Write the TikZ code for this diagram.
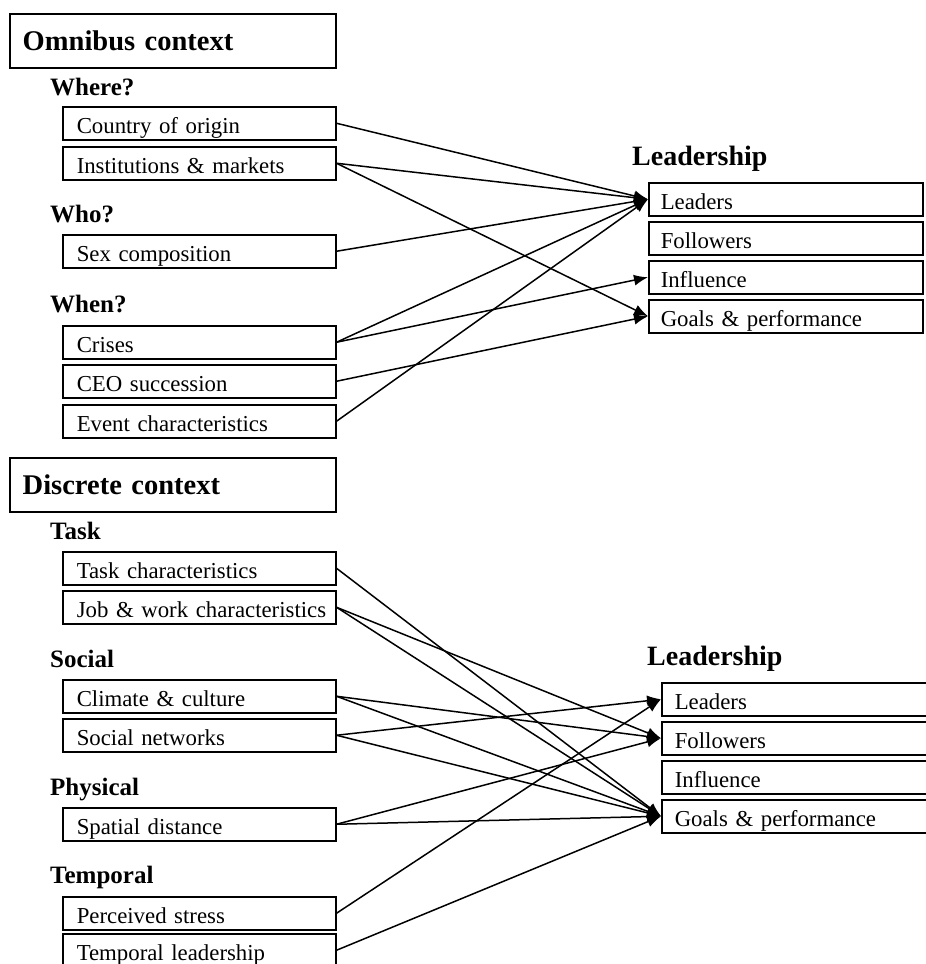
\documentclass[tikz,border=0pt]{standalone}
\usepackage{fontspec}
\setmainfont{Liberation Serif}
\usetikzlibrary{arrows.meta}
\begin{document}
\begin{tikzpicture}[x=1pt,y=-1pt,
  box/.style={draw, line width=1.5pt, anchor=north west, minimum height=33pt,
    inner ysep=0pt, text height=19.6pt, text depth=0pt,
    font=\fontsize{22.8}{26}\selectfont},
  lbox/.style={box, text width=245pt, inner xsep=14pt},
  rbox/.style={box, text width=250pt, inner xsep=12pt},
  rboxb/.style={box, text width=248pt, inner xsep=13pt},
  tbox/.style={draw, line width=1.5pt, anchor=north west, minimum height=54pt,
    inner ysep=0pt, text height=19pt, text depth=0pt, text width=300pt, inner xsep=13pt,
    font=\bfseries\fontsize{28.5}{32}\selectfont},
  head/.style={anchor=base west, inner sep=0pt, font=\bfseries\fontsize{25}{30}\selectfont},
  headl/.style={anchor=base west, inner sep=0pt, font=\bfseries\fontsize{28}{32}\selectfont},
  conn/.style={line width=1.5pt, -{Latex[length=14pt,width=11pt]}}
]
\useasboundingbox (0,0) rectangle (926,964);
\clip (0,0) rectangle (926,964);

% ---- Omnibus context ----
\node[tbox] (omni) at (9,13) {Omnibus context};
\node[head] (where) at (50,95) {Where?};
\node[lbox] (coo) at (62,106) {Country of origin};
\node[lbox] (inst) at (62,146) {Institutions \& markets};
\node[head] (who) at (50,222) {Who?};
\node[lbox] (sex) at (62,234) {Sex composition};
\node[head] (when) at (50,312) {When?};
\node[lbox] (cris) at (62,325) {Crises};
\node[lbox] (ceo) at (62,364) {CEO succession};
\node[lbox] (event) at (62,404) {Event characteristics};

\node[headl] (leadA) at (632,165) {Leadership};
\node[rbox] (LA) at (648,182) {Leaders};
\node[rbox] (FA) at (648,221) {Followers};
\node[rbox] (IA) at (648,260) {Influence};
\node[rbox] (GA) at (648,299) {Goals \& performance};

\draw[conn] (coo.east) -- (LA.west);
\draw[conn] (inst.east) -- (LA.west);
\draw[conn] (inst.east) -- (GA.west);
\draw[conn] (sex.east) -- (LA.west);
\draw[conn] (cris.east) -- (LA.west);
\draw[conn] (cris.east) -- (IA.west);
\draw[conn] (ceo.east) -- (GA.west);
\draw[conn] (event.east) -- (LA.west);

% ---- Discrete context ----
\node[tbox] (disc) at (9,457) {Discrete context};
\node[head] (task) at (50,539) {Task};
\node[lbox] (tc) at (62,551) {Task characteristics};
\node[lbox] (jw) at (62,590) {\mbox{Job \& work characteristics}};
\node[head] (soc) at (50,667) {Social};
\node[lbox] (cc) at (62,679) {Climate \& culture};
\node[lbox] (sn) at (62,718) {Social networks};
\node[head] (phys) at (50,795) {Physical};
\node[lbox] (sd) at (62,807) {Spatial distance};
\node[head] (temp) at (50,883) {Temporal};
\node[lbox] (ps) at (62,896) {Perceived stress};
\node[lbox] (tl) at (62,933) {Temporal leadership};

\node[headl] (leadB) at (647,665) {Leadership};
\node[rboxb] (LB) at (661,682) {Leaders};
\node[rboxb] (FB) at (661,721) {Followers};
\node[rboxb] (IB) at (661,760) {Influence};
\node[rboxb] (GB) at (661,799) {Goals \& performance};

\draw[conn] (tc.east) -- (GB.west);
\draw[conn] (jw.east) -- (FB.west);
\draw[conn] (jw.east) -- (GB.west);
\draw[conn] (cc.east) -- (FB.west);
\draw[conn] (cc.east) -- (GB.west);
\draw[conn] (sn.east) -- (LB.west);
\draw[conn] (sn.east) -- (GB.west);
\draw[conn] (sd.east) -- (FB.west);
\draw[conn] (sd.east) -- (GB.west);
\draw[conn] (ps.east) -- (LB.west);
\draw[conn] (tl.east) -- (GB.west);
\end{tikzpicture}
\end{document}
